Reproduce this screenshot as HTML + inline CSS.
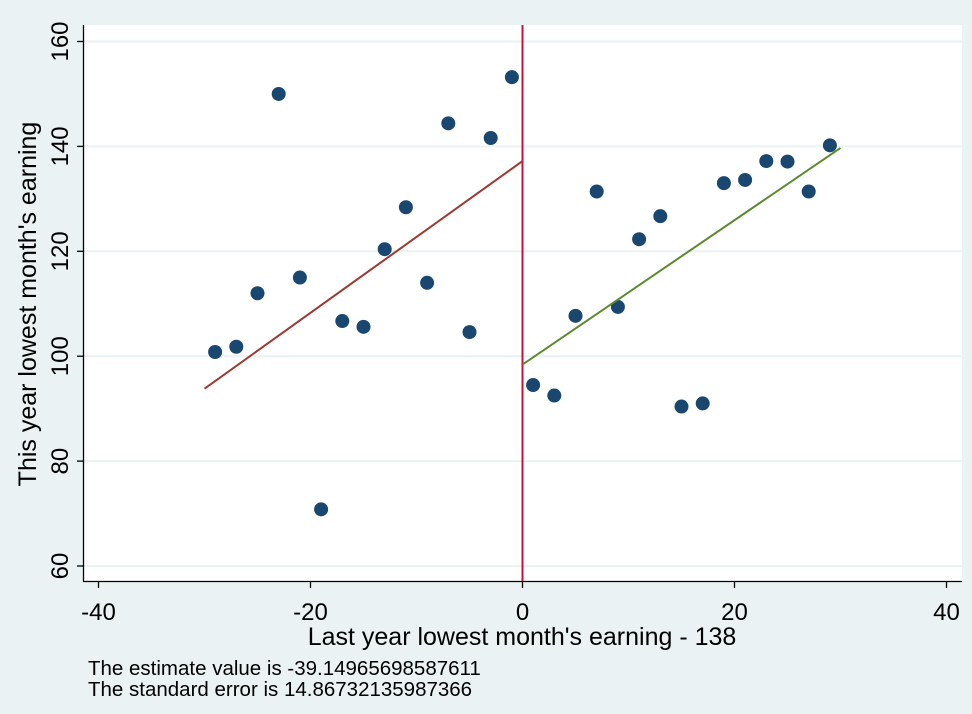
<!DOCTYPE html>
<html><head><meta charset="utf-8"><style>
body{margin:0;background:#eaf2f3;}
svg{display:block;font-family:"Liberation Sans",Arial,sans-serif;}
</style></head><body>
<svg id="chart" width="972" height="714">
<rect x="0" y="0" width="972" height="714" fill="#eaf2f3"/>
<rect x="84" y="25" width="878" height="556" fill="#ffffff"/>
<g id="grid"></g><g id="axes"></g><g id="marks"></g>
<text x="36" y="304" font-size="25" text-anchor="middle" transform="rotate(-90 36 304)" fill="#000">This year lowest month's earning</text>
<text x="522" y="645" font-size="25" text-anchor="middle" fill="#000">Last year lowest month's earning - 138</text>
<text x="88" y="675" font-size="20.5" fill="#000">The estimate value is -39.14965698587611</text>
<text x="88" y="696" font-size="20.5" fill="#000">The standard error is 14.86732135987366</text>
</svg>
<script>
const xs=[-29,-27,-25,-23,-21,-19,-17,-15,-13,-11,-9,-7,-5,-3,-1,1,3,5,7,9,11,13,15,17,19,21,23,25,27,29];
const ys=[100.8,101.8,112,150,115,70.8,106.7,105.6,120.4,128.4,114,144.4,104.6,141.6,153.2,94.5,92.5,107.7,131.4,109.4,122.3,126.7,90.4,91,133,133.6,137.2,137.1,131.4,140.2];
const leftFit=[[-30,93.8],[0,137.2]];
const rightFit=[[0,98.4],[30,139.7]];
const xTicks=[-40,-20,0,20,40];
const yTicks=[60,80,100,120,140,160];
const cutoff=0;
const X=v=>522.5+v*10.6;
const Y=v=>566-(v-60)*5.245;
const NS='http://www.w3.org/2000/svg';
function mk(t,a,p){const e=document.createElementNS(NS,t);for(const k in a)e.setAttribute(k,a[k]);p.appendChild(e);return e;}
const grid=document.getElementById('grid'),axes=document.getElementById('axes'),marks=document.getElementById('marks');
yTicks.forEach(t=>{
 const g=mk('line',{x1:84,x2:962,y1:Y(t),y2:Y(t),stroke:'#eaf2f3','stroke-width':2},grid);
 
 
 const tk=mk('line',{x1:77,x2:84,y1:Y(t),y2:Y(t),stroke:'#000','stroke-width':1.3},axes);
 
 
 const l=mk('text',{x:60,y:Y(t)+8,'font-size':24,'text-anchor':'middle',transform:`rotate(-90 60 ${Y(t)})`},axes);
 l.textContent=t;
 
 
});
xTicks.forEach(t=>{
 const tk=mk('line',{x1:X(t),x2:X(t),y1:581,y2:588,stroke:'#000','stroke-width':1.3},axes);
 
 
 const l=mk('text',{x:X(t),y:620,'font-size':24,'text-anchor':'middle'},axes);
 l.textContent=t;
 
 
});
const ya=mk('line',{x1:83.5,x2:83.5,y1:25,y2:581.5,stroke:'#000','stroke-width':1.3},axes);


const xa=mk('line',{x1:83,x2:962,y1:581.5,y2:581.5,stroke:'#000','stroke-width':1.3},axes);


const vl=mk('line',{x1:X(cutoff),x2:X(cutoff),y1:25,y2:581,stroke:'#c8103c','stroke-width':2},marks);


xs.forEach((x,i)=>{
 const c=mk('circle',{cx:X(x),cy:Y(ys[i]),r:7,fill:'#1a476f'},marks);
 
 
});
const lf=mk('line',{x1:X(leftFit[0][0]),y1:Y(leftFit[0][1]),x2:X(leftFit[1][0]),y2:Y(leftFit[1][1]),stroke:'#9c3a33','stroke-width':2},marks);


const rf=mk('line',{x1:X(rightFit[0][0]),y1:Y(rightFit[0][1]),x2:X(rightFit[1][0]),y2:Y(rightFit[1][1]),stroke:'#5b8a2e','stroke-width':2},marks);


</script>
</body></html>
